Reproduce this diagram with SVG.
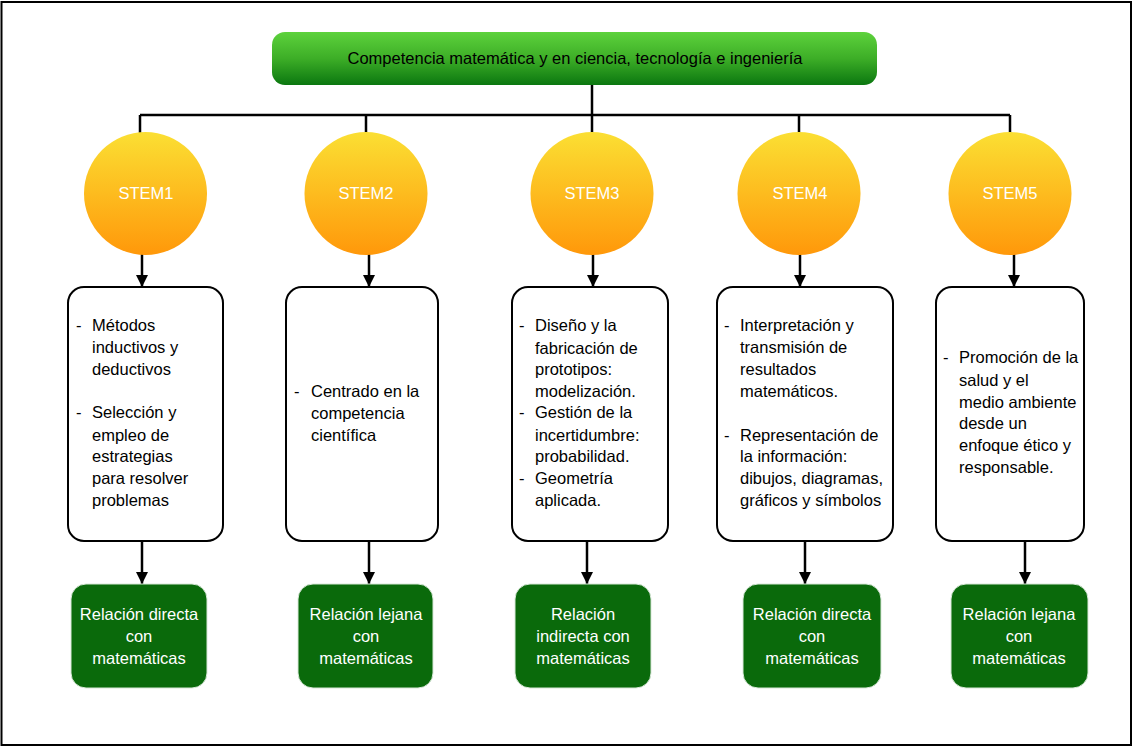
<svg xmlns="http://www.w3.org/2000/svg" width="1134" height="747" viewBox="0 0 1134 747">
<defs>
<linearGradient id="gTop" x1="0" y1="0" x2="0" y2="1">
<stop offset="0" stop-color="#5DD23C"/>
<stop offset="0.5" stop-color="#3DAE27"/>
<stop offset="1" stop-color="#0B7710"/>
</linearGradient>
<linearGradient id="gCirc" x1="0" y1="0" x2="0" y2="1">
<stop offset="0" stop-color="#FBDF33"/>
<stop offset="1" stop-color="#FF980A"/>
</linearGradient>
<marker id="arr" markerUnits="userSpaceOnUse" markerWidth="12" markerHeight="12" refX="12" refY="6" orient="auto">
<path d="M0,0 L12,6 L0,12 z" fill="#000"/>
</marker>
<style>
.t{font-family:"Liberation Sans",Arial,sans-serif;font-size:16.5px;fill:#000}
.w{font-family:"Liberation Sans",Arial,sans-serif;font-size:16.5px;fill:#fff;text-anchor:middle}
.circ{fill:url(#gCirc)}
.box{fill:#fff;stroke:#000;stroke-width:2}
.gbox{fill:#0A6A0B;stroke:#d8e8d8;stroke-width:1}
.ln{stroke:#000;stroke-width:2.5;fill:none}
.ar{stroke:#000;stroke-width:2.5;fill:none;marker-end:url(#arr)}
</style>
</defs>
<rect x="1.5" y="2" width="1129.5" height="743" fill="#fff" stroke="#000" stroke-width="2"/>

<g id="connectors">
<path class="ln" d="M592,85 V115 M140,115 H1010 M140,115 V134 M366,115 V134 M592,115 V134 M799,115 V134 M1010,115 V134"/>
<line class="ar" x1="142" y1="254" x2="142" y2="287"/>
<line class="ar" x1="369" y1="254" x2="369" y2="287"/>
<line class="ar" x1="593" y1="254" x2="593" y2="287"/>
<line class="ar" x1="800" y1="254" x2="800" y2="287"/>
<line class="ar" x1="1014" y1="254" x2="1014" y2="287"/>
<line class="ar" x1="142" y1="541" x2="142" y2="584"/>
<line class="ar" x1="369" y1="541" x2="369" y2="584"/>
<line class="ar" x1="587" y1="541" x2="587" y2="584"/>
<line class="ar" x1="805" y1="541" x2="805" y2="584"/>
<line class="ar" x1="1025" y1="541" x2="1025" y2="584"/>
</g>

<g id="title">
<rect x="272" y="32" width="605" height="53" rx="13" fill="url(#gTop)"/>
<text class="t" x="575" y="64" text-anchor="middle">Competencia matemática y en ciencia, tecnología e ingeniería</text>
</g>

<g id="stem1"><circle class="circ" cx="145.5" cy="193.5" r="61.5"/><text class="w" x="146" y="199">STEM1</text></g>
<g id="stem2"><circle class="circ" cx="366" cy="193.5" r="61.5"/><text class="w" x="366" y="199">STEM2</text></g>
<g id="stem3"><circle class="circ" cx="592" cy="193.5" r="61.5"/><text class="w" x="592" y="199">STEM3</text></g>
<g id="stem4"><circle class="circ" cx="799" cy="193.5" r="61.5"/><text class="w" x="800" y="199">STEM4</text></g>
<g id="stem5"><circle class="circ" cx="1010" cy="193.5" r="61.5"/><text class="w" x="1010" y="199">STEM5</text></g>

<g id="desc1">
<rect class="box" x="68" y="287" width="155" height="254" rx="16"/>
<text class="t"><tspan x="76" y="331">-</tspan><tspan x="92" y="331">Métodos</tspan><tspan x="92" y="353">inductivos y</tspan><tspan x="92" y="375">deductivos</tspan><tspan x="76" y="418">-</tspan><tspan x="92" y="418">Selección y</tspan><tspan x="92" y="441">empleo de</tspan><tspan x="92" y="462">estrategias</tspan><tspan x="92" y="484">para resolver</tspan><tspan x="92" y="506">problemas</tspan></text>
</g>
<g id="desc2">
<rect class="box" x="286" y="287" width="152" height="254" rx="16"/>
<text class="t"><tspan x="294" y="397">-</tspan><tspan x="311" y="397">Centrado en la</tspan><tspan x="311" y="419">competencia</tspan><tspan x="311" y="441">científica</tspan></text>
</g>
<g id="desc3">
<rect class="box" x="512" y="287" width="156" height="254" rx="16"/>
<text class="t"><tspan x="519" y="331">-</tspan><tspan x="535" y="331">Diseño y la</tspan><tspan x="535" y="354">fabricación de</tspan><tspan x="535" y="375">prototipos:</tspan><tspan x="535" y="397">modelización.</tspan><tspan x="519" y="418">-</tspan><tspan x="535" y="418">Gestión de la</tspan><tspan x="535" y="441">incertidumbre:</tspan><tspan x="535" y="462">probabilidad.</tspan><tspan x="519" y="484">-</tspan><tspan x="535" y="484">Geometría</tspan><tspan x="535" y="506">aplicada.</tspan></text>
</g>
<g id="desc4">
<rect class="box" x="717" y="287" width="176" height="254" rx="16"/>
<text class="t"><tspan x="724" y="331">-</tspan><tspan x="740" y="331">Interpretación y</tspan><tspan x="740" y="353">transmisión de</tspan><tspan x="740" y="375">resultados</tspan><tspan x="740" y="397">matemáticos.</tspan><tspan x="724" y="441">-</tspan><tspan x="740" y="441">Representación de</tspan><tspan x="740" y="462">la información:</tspan><tspan x="740" y="484">dibujos, diagramas,</tspan><tspan x="740" y="506">gráficos y símbolos</tspan></text>
</g>
<g id="desc5">
<rect class="box" x="936" y="287" width="148" height="254" rx="16"/>
<text class="t"><tspan x="943" y="363">-</tspan><tspan x="959" y="363">Promoción de la</tspan><tspan x="959" y="386">salud y el</tspan><tspan x="959" y="408">medio ambiente</tspan><tspan x="959" y="429">desde un</tspan><tspan x="959" y="451">enfoque ético y</tspan><tspan x="959" y="473">responsable.</tspan></text>
</g>

<g id="rel1"><rect class="gbox" x="71" y="584" width="136" height="104" rx="15"/><text class="w"><tspan x="139" y="620">Relación directa</tspan><tspan x="139" y="642">con</tspan><tspan x="139" y="664">matemáticas</tspan></text></g>
<g id="rel2"><rect class="gbox" x="298" y="584" width="135" height="104" rx="15"/><text class="w"><tspan x="366" y="620">Relación lejana</tspan><tspan x="366" y="642">con</tspan><tspan x="366" y="664">matemáticas</tspan></text></g>
<g id="rel3"><rect class="gbox" x="515" y="584" width="136" height="104" rx="15"/><text class="w"><tspan x="583" y="620">Relación</tspan><tspan x="583" y="642">indirecta con</tspan><tspan x="583" y="664">matemáticas</tspan></text></g>
<g id="rel4"><rect class="gbox" x="743" y="584" width="138" height="104" rx="15"/><text class="w"><tspan x="812" y="620">Relación directa</tspan><tspan x="812" y="642">con</tspan><tspan x="812" y="664">matemáticas</tspan></text></g>
<g id="rel5"><rect class="gbox" x="951" y="584" width="137" height="104" rx="15"/><text class="w"><tspan x="1019" y="620">Relación lejana</tspan><tspan x="1019" y="642">con</tspan><tspan x="1019" y="664">matemáticas</tspan></text></g>
</svg>
